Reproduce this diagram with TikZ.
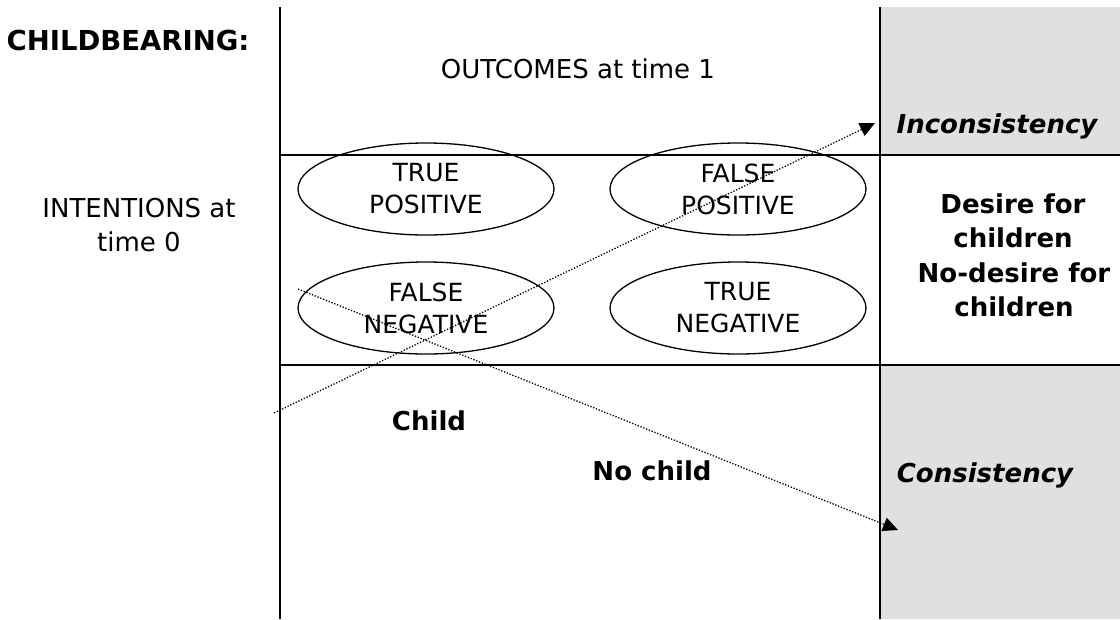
\documentclass[tikz,border=0pt]{standalone}
\usepackage{fontspec}
\setmainfont{DejaVu Sans}
\usetikzlibrary{shapes.geometric,arrows.meta}

\definecolor{cellgray}{RGB}{224,224,224}

\tikzset{
  rule/.style={line width=2.2pt},
  outcome/.style={draw, ellipse, line width=1.3pt, minimum width=256pt, minimum height=92pt,
    inner sep=0pt, align=center, font=\fontsize{25}{32}\selectfont},
  plain/.style={align=center, anchor=base, inner sep=0pt, font=\fontsize{26}{34}\selectfont},
  heading/.style={plain, font=\fontsize{26}{34}\selectfont\bfseries},
  verdict/.style={plain, font=\fontsize{26}{34}\selectfont\bfseries\itshape},
  link/.style={line width=1.3pt, dash pattern=on 1.3pt off 1.7pt, -{Triangle[length=15pt,width=14pt]}}
}

\begin{document}
\begin{tikzpicture}[x=1pt,y=-1pt]
  \useasboundingbox (0,0) rectangle (1120,619);

  % shaded verdict cells
  \fill[cellgray] (880,7) rectangle (1120,155);
  \fill[cellgray] (880,365) rectangle (1120,619);

  % table rules
  \draw[rule] (280,7) -- (280,619);
  \draw[rule] (880,7) -- (880,619);
  \draw[rule] (280,155) -- (1120,155);
  \draw[rule] (280,365) -- (1120,365);

  % the four outcomes
  \node[outcome] (truepos) at (426,189) {TRUE\\POSITIVE};
  \node[outcome] (falsepos) at (738,189) {FALSE\\POSITIVE};
  \node[outcome] (falseneg) at (426,308) {FALSE\\NEGATIVE};
  \node[outcome] (trueneg) at (738,308) {TRUE\\NEGATIVE};

  % labels (base = last line)
  \node[heading, font=\fontsize{27.5}{34}\selectfont\bfseries] (title) at (128,50) {CHILDBEARING:};
  \node[plain] (outcomes) at (578,78) {OUTCOMES at time 1};
  \node[plain] (intentions) at (139,251) {INTENTIONS at\\time 0};
  \node[heading] (desire) at (1013,247) {Desire for\\children};
  \node[heading] (nodesire) at (1014,316) {No-desire for\\children};
  \node[heading] (child) at (429,430) {Child};
  \node[heading] (nochild) at (652,480) {No child};
  \node[verdict] (incons) at (997,133) {Inconsistency};
  \node[verdict] (cons) at (985,482) {Consistency};

  % dotted arrows
  \coordinate (riseA) at (274,413);
  \coordinate (riseB) at (875,123);
  \coordinate (fallA) at (298,289);
  \coordinate (fallB) at (898,530);
  \draw[link] (riseA) -- (riseB);
  \draw[link] (fallA) -- (fallB);
\end{tikzpicture}
\end{document}
